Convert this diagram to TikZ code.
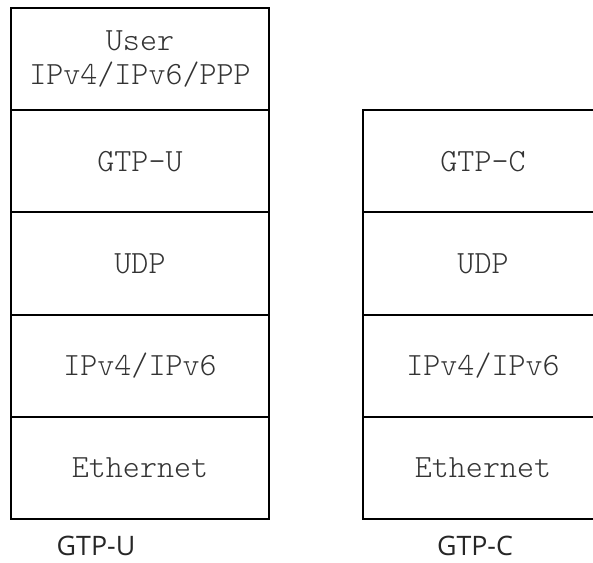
\documentclass[tikz,border=0pt]{standalone}
\usepackage{fontspec}
\setmainfont{Open Sans}
\setmonofont{Latin Modern Mono Light}
\begin{document}
\begin{tikzpicture}[x=0.5pt,y=-0.5pt,
  layer/.style={draw=black, line width=1pt, minimum height=51.15pt, inner sep=0pt,
    font=\ttfamily\fontsize{16.2}{17}\selectfont, text=black!80, align=center, anchor=north west},
  leftlayer/.style={layer, minimum width=129pt},
  rightlayer/.style={layer, minimum width=120.3pt},
  caption/.style={anchor=base, font=\fontsize{13.4}{16}\selectfont, text=black!85}]
\useasboundingbox (0,0) rectangle (593,562);
\clip (0,0) rectangle (593,562);
% GTP-U stack
\node[leftlayer] (l1) at (10,6.7) {User\\IPv4/IPv6/PPP};
\node[leftlayer] (l2) at (10,109) {GTP-U};
\node[leftlayer] (l3) at (10,211.3) {UDP};
\node[leftlayer] (l4) at (10,313.6) {IPv4/IPv6};
\node[leftlayer] (l5) at (10,415.9) {Ethernet};
% GTP-C stack
\node[rightlayer] (r2) at (361.7,109) {GTP-C};
\node[rightlayer] (r3) at (361.7,211.3) {UDP};
\node[rightlayer] (r4) at (361.7,313.6) {IPv4/IPv6};
\node[rightlayer] (r5) at (361.7,415.9) {Ethernet};
% captions
\node[caption] (cu) at (96,555) {GTP-U};
\node[caption] (cc) at (475,555) {GTP-C};
\end{tikzpicture}
\end{document}
